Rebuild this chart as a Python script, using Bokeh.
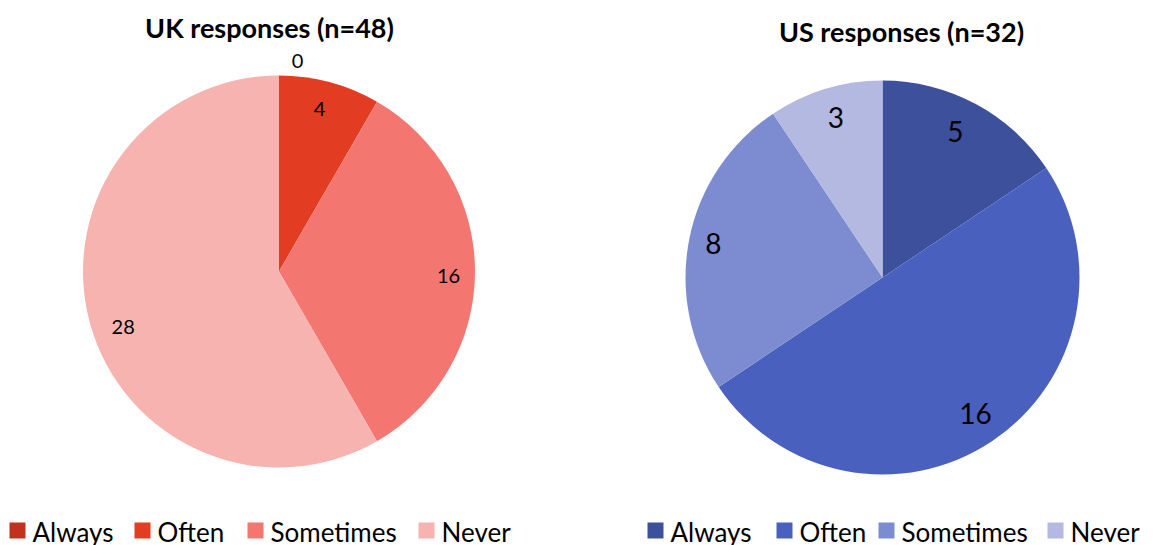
import numpy as np
from bokeh.plotting import figure
from bokeh.models import Range1d
from bokeh.core.properties import value
from bokeh.embed import file_html
from bokeh.resources import INLINE

# ---- data ----
categories = ["Always", "Often", "Sometimes", "Never"]
uk_values = [0, 4, 16, 28]
us_values = [5, 16, 8, 3]
uk_title = "UK responses (n=48)"
us_title = "US responses (n=32)"

# ---- styles ----
uk_colors = ["#C0321F", "#E23C23", "#F37770", "#F6B3AF"]
us_colors = ["#3C509C", "#4A60BE", "#7D8CD0", "#B3B9E0"]
FONT = "Lato"

W, H = 1175, 545


def Y(s):
    # screen pixel row -> data y
    return H - s


p = figure(width=W, height=H, x_range=Range1d(0, W), y_range=Range1d(0, H),
           output_backend="svg", toolbar_location=None, min_border=0)
p.axis.visible = False
p.grid.visible = False
p.outline_line_color = None
p.background_fill_color = "white"
p.border_fill_color = "white"


def pie(cx, cy, r, vals, colors, label_r, label_dx, label_dy, label_size):
    vals = np.array(vals, dtype=float)
    cum = np.concatenate([[0.0], np.cumsum(vals / vals.sum())])
    start = np.pi / 2 - 2 * np.pi * cum[1:]
    end = np.pi / 2 - 2 * np.pi * cum[:-1]
    keep = vals > 0
    p.wedge(x=cx, y=Y(cy), radius=r,
            start_angle=list(start[keep]), end_angle=list(end[keep]),
            fill_color=[c for c, k in zip(colors, keep) if k], line_color=None)
    mid = (start + end) / 2
    lx = cx + np.array(label_r) * r * np.cos(mid) + np.array(label_dx)
    ly = Y(cy) + np.array(label_r) * r * np.sin(mid) - np.array(label_dy)
    p.text(x=list(lx), y=list(ly), text=[str(int(v)) for v in vals],
           text_align="center", text_baseline="middle", text_color="black",
           text_font=value(FONT), text_font_size=label_size)


def legend(square_x, sq_cy, colors, size):
    xs = np.array(square_x, dtype=float)
    p.rect(x=list(xs + 8), y=Y(sq_cy), width=16, height=16, fill_color=colors, line_color=None)
    p.text(x=list(xs + 23), y=Y(sq_cy + 1), text=categories, text_align="left",
           text_baseline="alphabetic", text_color="black",
           text_font=value(FONT), text_font_size=size)


# UK pie
pie(278.5, 271, 196, uk_values, uk_colors,
    [1.06, 0.86, 0.86, 0.86], [18.5, -3, 1, 7], [-3, 0, 4, 12], "20px")
# US pie
pie(882, 277, 197, us_values, us_colors,
    [0.85, 0.85, 0.85, 0.85], [-6, 0, -5, 2], [2, -3, -1, 0], "28px")

# titles
p.text(x=[269], y=[Y(27)], text=[uk_title], text_align="center", text_baseline="alphabetic",
       text_font=value(FONT), text_font_style="bold", text_font_size="27px", text_color="black")
p.text(x=[901], y=[Y(31)], text=[us_title], text_align="center", text_baseline="alphabetic",
       text_font=value(FONT), text_font_style="bold", text_font_size="27px", text_color="black")

# legends
legend([9, 134, 247, 418], 530, uk_colors, "26px")
legend([647, 776, 878, 1047], 530, us_colors, "26px")

open("out.html", "w").write(file_html(p, INLINE))
